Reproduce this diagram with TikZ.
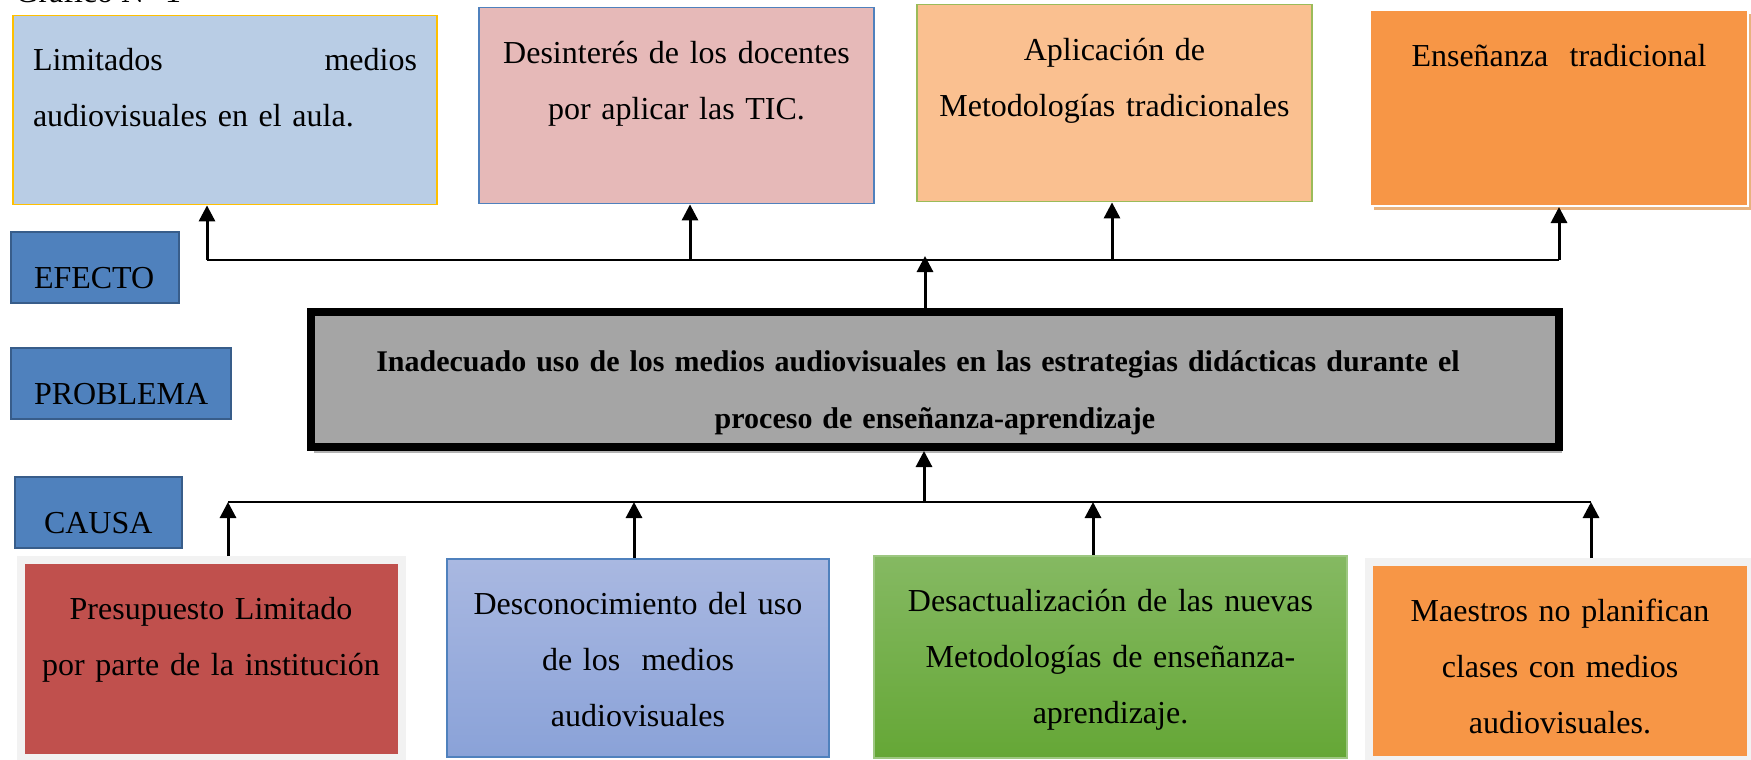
\documentclass[tikz,border=0pt]{standalone}
\usepackage{fontspec}
\setmainfont{Liberation Serif}
\usetikzlibrary{arrows.meta, shadows, positioning, calc}

\definecolor{azul}{HTML}{4F81BD}
\definecolor{azulosc}{HTML}{385D8A}
\definecolor{celeste}{HTML}{B9CDE5}
\definecolor{rosa}{HTML}{E6B9B8}
\definecolor{durazno}{HTML}{FAC090}
\definecolor{naranja}{HTML}{F79646}
\definecolor{rojo}{HTML}{C0504D}
\definecolor{gris}{HTML}{A5A5A5}
\definecolor{oro}{HTML}{FFC000}
\definecolor{verdeborde}{HTML}{9BBB59}
\definecolor{azularriba}{HTML}{A9B8E1}
\definecolor{azulabajo}{HTML}{8AA2D8}
\definecolor{verdearriba}{HTML}{85B962}
\definecolor{verdeabajo}{HTML}{65A736}

\begin{document}
\begin{tikzpicture}[x=0.5pt, y=-0.5pt,
    every node/.style={font=\fontsize{16}{28}\selectfont, inner ysep=0pt, inner xsep=10pt},
    etiqueta/.style={fill=azul, draw=azulosc, line width=1pt, anchor=north west,
      align=left, text height=28pt, text depth=7.5pt},
    caja/.style={anchor=north, align=center},
    flecha/.style={line width=1.5pt, -{Triangle[length=8pt,width=8pt]}},
    linea/.style={line width=1.1pt}]
  \useasboundingbox (0,0) rectangle (1751,760);

  \node[anchor=base west, inner sep=0pt] (titulo) at (15,3) {Gráfico N° 1};

  % etiquetas de la izquierda
  \node[etiqueta, inner xsep=11.5pt, text width=61pt] (efecto) at (10,231) {EFECTO};
  \node[etiqueta, inner xsep=11.5pt, text width=87pt] (problema) at (10,347) {PROBLEMA};
  \node[etiqueta, inner xsep=14.5pt, text width=54.5pt] (causa) at (14,476) {CAUSA};

  % efectos
  \node[caja, fill=celeste, draw=oro, line width=0.7pt, align=left,
    text width=192pt, text height=27.5pt, text depth=67pt] (e1) at (225,15)
    {Limitados\hfill medios\\audiovisuales en el aula.};
  \node[caja, fill=rosa, draw=azul, line width=0.7pt,
    text width=177.5pt, text height=28pt, text depth=70pt] (e2) at (676.5,7)
    {Desinterés de los docentes\\por aplicar las TIC.};
  \node[caja, fill=durazno, draw=verdeborde, line width=0.7pt,
    text width=177.5pt, text height=28pt, text depth=70.5pt] (e3) at (1114.5,4)
    {Aplicación de\\Metodologías tradicionales};
  \node[caja, fill=naranja, draw=white, line width=1pt,
    drop shadow={shadow xshift=2pt, shadow yshift=-2pt, fill=brown!60!orange!60, opacity=1},
    text width=169pt, text height=28pt, text depth=70pt] (e4) at (1559,9)
    {Enseñanza\ \ tradicional};

  % problema
  \node[caja, fill=gris, draw=black, line width=4pt,
    drop shadow={shadow xshift=1.5pt, shadow yshift=-3pt, fill=black!30, opacity=1},
    font=\fontsize{15}{28.5}\selectfont\bfseries, inner xsep=12pt,
    text width=600pt, text height=29.5pt, text depth=38pt] (prob) at (935,308)
    {Inadecuado uso de los medios audiovisuales en las estrategias didácticas durante el\rule{17pt}{0pt}\\proceso de enseñanza-aprendizaje};

  % causas
  \node[caja, fill=rojo, draw=black!5, line width=4pt,
    drop shadow={shadow xshift=1.5pt, shadow yshift=-1.5pt, fill=red!25!gray!60, opacity=1},
    text width=170.5pt, text height=29.5pt, text depth=69.5pt] (c1) at (211,556)
    {Presupuesto Limitado\\por parte de la institución};
  \node[caja, top color=azularriba, bottom color=azulabajo, draw=azul, line width=1pt,
    text width=171pt, text height=27.5pt, text depth=71.5pt] (c2) at (638,558)
    {Desconocimiento del uso\\de los\ \ medios\\audiovisuales};
  \node[caja, top color=verdearriba, bottom color=verdeabajo, draw=verdearriba!80, line width=1pt,
    text width=216.5pt, text height=27.5pt, text depth=73.5pt] (c3) at (1110.5,555)
    {Desactualización de las nuevas\\Metodologías de enseñanza-\\aprendizaje.};
  \node[caja, fill=naranja, draw=black!5, line width=4pt,
    text width=171pt, text height=29.5pt, text depth=69.5pt] (c4) at (1560,558)
    {Maestros no planifican\\clases con medios\\audiovisuales.};

  % ramas de arriba
  \coordinate (t1) at (207,260);
  \coordinate (t2) at (690,260);
  \coordinate (t3) at (1112,260);
  \coordinate (t4) at (1559,260);
  \coordinate (tp) at (925,256);
  \draw[linea] (t1) -- (t4);
  \draw[flecha] (t1) -- (t1 |- e1.south);
  \draw[flecha] (t2) -- (t2 |- e2.south);
  \draw[flecha] (t3) -- (t3 |- e3.south);
  \draw[flecha] (t4) -- (t4 |- e4.south);
  \draw[flecha] (prob.north -| tp) -- (tp);

  % ramas de abajo
  \coordinate (b1) at (228,502);
  \coordinate (b2) at (634,502);
  \coordinate (b3) at (1093,502);
  \coordinate (b4) at (1591,502);
  \coordinate (bp) at (924,502);
  \draw[linea] (b1) -- (b4);
  \draw[flecha] (b1 |- c1.north) -- (b1);
  \draw[flecha] (b2 |- c2.north) -- (b2);
  \draw[flecha] (b3 |- c3.north) -- (b3);
  \draw[flecha] (b4 |- c4.north) -- (b4);
  \draw[flecha] (bp) -- (bp |- prob.south);
\end{tikzpicture}
\end{document}
